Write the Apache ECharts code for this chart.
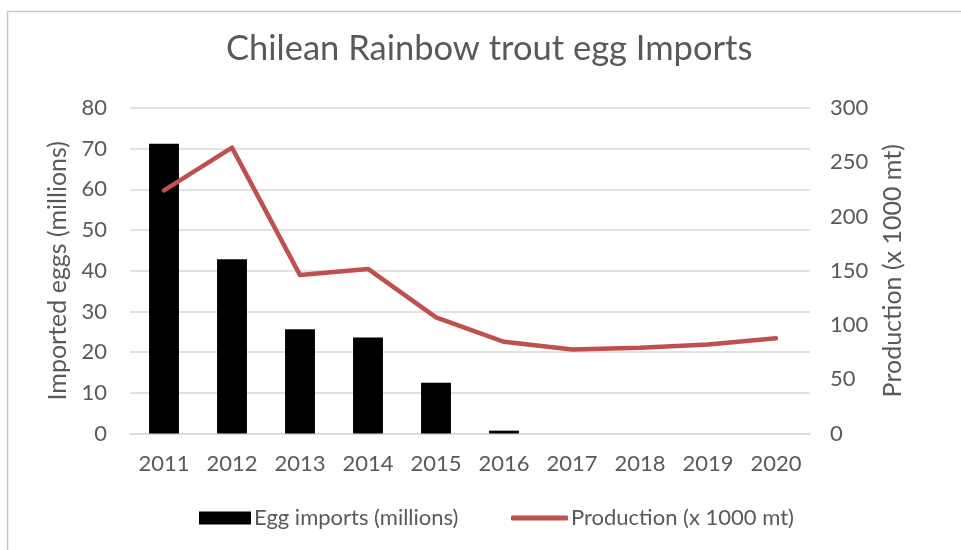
<!DOCTYPE html>
<html>
<head>
<meta charset="utf-8">
<script src="https://cdn.jsdelivr.net/npm/echarts@6/dist/echarts.min.js"></script>
<style>
  html, body { margin: 0; padding: 0; background: #fff; }
  #chart { width: 961px; height: 550px; }
</style>
</head>
<body>
<div id="chart"></div>
<script>
// Chilean rainbow trout: egg imports (bars, left axis) and production (line, right axis)
const years = ['2011', '2012', '2013', '2014', '2015', '2016', '2017', '2018', '2019', '2020'];
const eggImports = [71.2, 42.8, 25.6, 23.6, 12.5, 0.7, null, null, null, null];
const production = [224, 263.5, 146, 151.7, 107, 84.5, 77.5, 79, 82, 87.7];

const FONT = 'Lato, "Open Sans", sans-serif';
const GREY = '#595959';
const RED = '#c0504d';

const chart = echarts.init(document.getElementById('chart'), null, { renderer: 'canvas' });

const legendText = { fontFamily: FONT, fontSize: 22, color: GREY, padding: [0, 0, 0, -2] };

chart.setOption({
  animation: false,
  backgroundColor: '#ffffff',
  textStyle: { fontFamily: FONT, color: GREY },
  graphic: [{
    type: 'rect',
    left: 5, top: 9,
    shape: { width: 1000, height: 600 },
    style: { fill: 'none', stroke: '#c8c8c8', lineWidth: 1.5 },
    silent: true
  }],
  title: {
    text: 'Chilean Rainbow trout egg Imports',
    left: 226,
    top: 31,
    padding: 0,
    textStyle: { fontFamily: FONT, fontSize: 34.5, fontWeight: 'normal', color: GREY }
  },
  legend: [{
    left: 199,
    top: 507,
    padding: 0,
    itemWidth: 52,
    itemHeight: 13,
    itemGap: 0,
    textStyle: legendText,
    data: [{ name: 'Egg imports (millions)', icon: 'rect' }]
  }, {
    left: 511,
    top: 507,
    padding: 0,
    itemWidth: 57,
    itemHeight: 5,
    itemGap: 0,
    textStyle: legendText,
    data: [{ name: 'Production (x 1000 mt)', icon: 'roundRect', itemStyle: { color: RED } }]
  }],
  grid: { left: 130, right: 151, top: 108, bottom: 116.5 },
  xAxis: {
    type: 'category',
    data: years,
    axisLine: { show: true, lineStyle: { color: '#d9d9d9', width: 1.5 } },
    axisTick: { show: false },
    axisLabel: { fontFamily: FONT, fontSize: 22, color: GREY, margin: 19 }
  },
  yAxis: [{
    type: 'value',
    min: 0, max: 80, interval: 10,
    name: 'Imported eggs (millions)',
    nameLocation: 'middle',
    nameRotate: 90,
    nameGap: 53,
    nameTextStyle: { fontFamily: FONT, fontSize: 25, color: GREY },
    axisLine: { show: false },
    axisTick: { show: false },
    axisLabel: { fontFamily: FONT, fontSize: 22, color: GREY, margin: 23 },
    splitLine: { lineStyle: { color: '#d9d9d9', width: 1.5 } }
  }, {
    type: 'value',
    min: 0, max: 300, interval: 50,
    name: 'Production (x 1000 mt)',
    nameLocation: 'middle',
    nameRotate: 90,
    nameGap: 70,
    nameTextStyle: { fontFamily: FONT, fontSize: 25, color: GREY },
    axisLine: { show: false },
    axisTick: { show: false },
    axisLabel: { fontFamily: FONT, fontSize: 22, color: GREY, margin: 20 },
    splitLine: { show: false }
  }],
  series: [{
    name: 'Egg imports (millions)',
    type: 'bar',
    yAxisIndex: 0,
    data: eggImports,
    barWidth: '44%',
    itemStyle: { color: '#000000' }
  }, {
    name: 'Production (x 1000 mt)',
    type: 'line',
    yAxisIndex: 1,
    data: production,
    symbol: 'none',
    lineStyle: { color: RED, width: 4.5, cap: 'round', join: 'round' },
    itemStyle: { color: RED }
  }]
});
</script>
</body>
</html>
